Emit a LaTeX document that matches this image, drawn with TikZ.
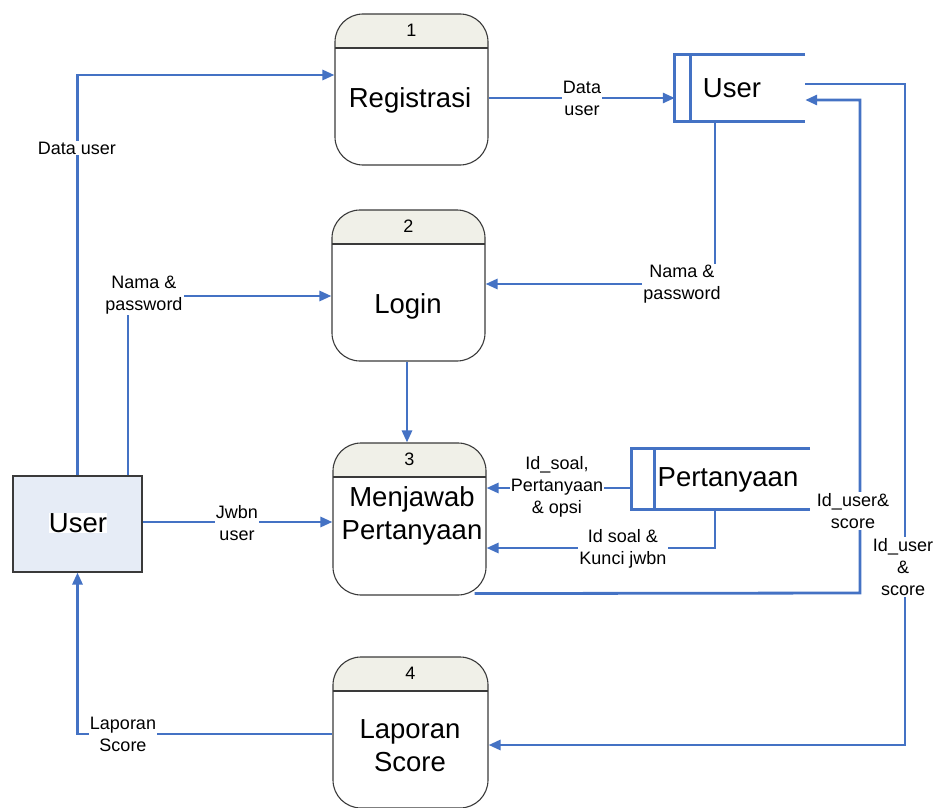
\documentclass[tikz,border=0pt]{standalone}
\usepackage{fontspec}
\setmainfont{Liberation Sans}
\usetikzlibrary{arrows.meta}
\definecolor{flowblue}{HTML}{4472C4}
\definecolor{headfill}{HTML}{F0F0E8}
\definecolor{entfill}{HTML}{E6ECF6}
\definecolor{edgegray}{HTML}{3A3A3A}

\tikzset{
  process/.style={draw=edgegray, line width=1.1pt, rounded corners=28pt,
    minimum width=153pt, minimum height=151pt, inner sep=0pt,
    path picture={
      \fill[headfill, sharp corners] (path picture bounding box.north west) rectangle
        ([yshift=-34pt]path picture bounding box.north east);
      \draw[edgegray, line width=1.1pt, sharp corners]
        ([yshift=-34pt]path picture bounding box.north west) --
        ([yshift=-34pt]path picture bounding box.north east);}},
  procnum/.style={font=\fontsize{18}{21}\selectfont, inner sep=0pt},
  proctitle/.style={font=\fontsize{27.5}{33}\selectfont, align=center, inner sep=0pt},
  store/.style={minimum width=130pt, minimum height=66pt, inner sep=0pt},
  storeline/.style={draw=flowblue, line width=2.8pt},
  entity/.style={draw=edgegray, fill=entfill, line width=1.1pt,
    minimum width=129pt, minimum height=96pt, inner sep=0pt},
  flow/.style={draw=flowblue, line width=2.8pt,
    -{Triangle[length=12pt,width=10pt]}},
  flowlabel/.style={font=\fontsize{18}{22}\selectfont, fill=white,
    align=center, inner sep=1pt},
}

\begin{document}
\begin{tikzpicture}[x=1pt, y=-1pt]
\useasboundingbox (0,0) rectangle (935,808);

% processes
\node[process] (p1) at (411.5,89.5) {};
\node[procnum] (p1n) at ([yshift=-17pt]p1.north) {1};
\node[proctitle] (p1t) at (410,100) {Registrasi};

\node[process] (p2) at (408.5,285.5) {};
\node[procnum] (p2n) at ([yshift=-17pt]p2.north) {2};
\node[proctitle] (p2t) at (408,306) {Login};

\node[process, minimum height=152pt] (p3) at (409.5,519) {};
\node[procnum] (p3n) at ([yshift=-17pt]p3.north) {3};
\node[proctitle] (p3t) at (412,516) {Menjawab\\Pertanyaan};

\node[process, minimum width=155pt] (p4) at (410.5,732.5) {};
\node[procnum] (p4n) at ([yshift=-17pt]p4.north) {4};
\node[proctitle] (p4t) at (410,746) {Laporan\\Score};

% data stores
\node[store] (ds1) at (740,88) {};
\draw[storeline] (ds1.north east) -- (ds1.north west) -- (ds1.south west) -- (ds1.south east);
\draw[storeline] ([xshift=16pt]ds1.north west) -- ([xshift=16pt]ds1.south west);
\node[proctitle] (ds1t) at (732,88) {User};

\node[store, minimum width=178pt, minimum height=60pt] (ds2) at (721,479) {};
\draw[storeline] (ds2.north east) -- (ds2.north west) -- (ds2.south west) -- (ds2.south east);
\draw[storeline] ([xshift=23pt]ds2.north west) -- ([xshift=23pt]ds2.south west);
\node[proctitle] (ds2t) at (728,480) {Pertanyaan};

% external entity
\node[entity] (ext) at (77.5,524) {};
\node[proctitle, fill=white] (extt) at (78,523) {User};

% bend points
\coordinate (b9) at (860,593);
\coordinate (b10) at (905,745);

% data flows
\draw[flow] (ext.north) |- ([yshift=14.5pt]p1.west);
\node[flowlabel] (l1) at (77,148) {Data user};

\draw[flow] ([xshift=50.5pt]ext.north) |- ([yshift=-10.5pt]p2.west);
\node[flowlabel] (l2) at (144,295) {Nama \&\\password};

\draw[flow] ([yshift=-8.5pt]p1.east) -- ([yshift=-8.5pt]p1.east -| ds1.west);
\node[flowlabel] (l3) at (582,98) {Data\\user};

\draw[flow] ([xshift=-25pt]ds1.south) |- ([yshift=1.5pt]p2.east);
\node[flowlabel] (l4) at (682,284) {Nama \&\\password};

\draw[flow] (p2.south -| 407,0) -- (p3.north -| 407,0);

\draw[flow] ([yshift=-9pt]ds2.west) -- ([yshift=-9pt]ds2.west -| p3.east);
\node[flowlabel] (l6) at (557,487) {Id\_soal,\\Pertanyaan\\\& opsi};

\draw[flow] ([xshift=-6pt]ds2.south) |- ([yshift=-29pt]p3.east);
\node[flowlabel] (l7) at (623,549) {Id soal \&\\Kunci jwbn};

\draw[flow] ([yshift=2pt]ext.east) -- ([yshift=2pt]ext.east -| p3.west);
\node[flowlabel] (l8) at (237,523) {Jwbn\\user};

\draw[flow] ([xshift=-12pt,yshift=2pt]p3.south east) -- (b9) |- ([yshift=-12pt]ds1.east);
\node[flowlabel] (l9) at (853,511) {Id\_user\&\\score};

\draw[flow] ([yshift=4pt]ds1.east) -| (b10) -- (b10 -| p4.east);
\node[flowlabel] (l10) at (903,567) {Id\_user\\\&\\score};

\draw[flow] ([yshift=-1.5pt]p4.west) -| (ext.south);
\node[flowlabel] (l11) at (123,734) {Laporan\\Score};
\end{tikzpicture}
\end{document}
